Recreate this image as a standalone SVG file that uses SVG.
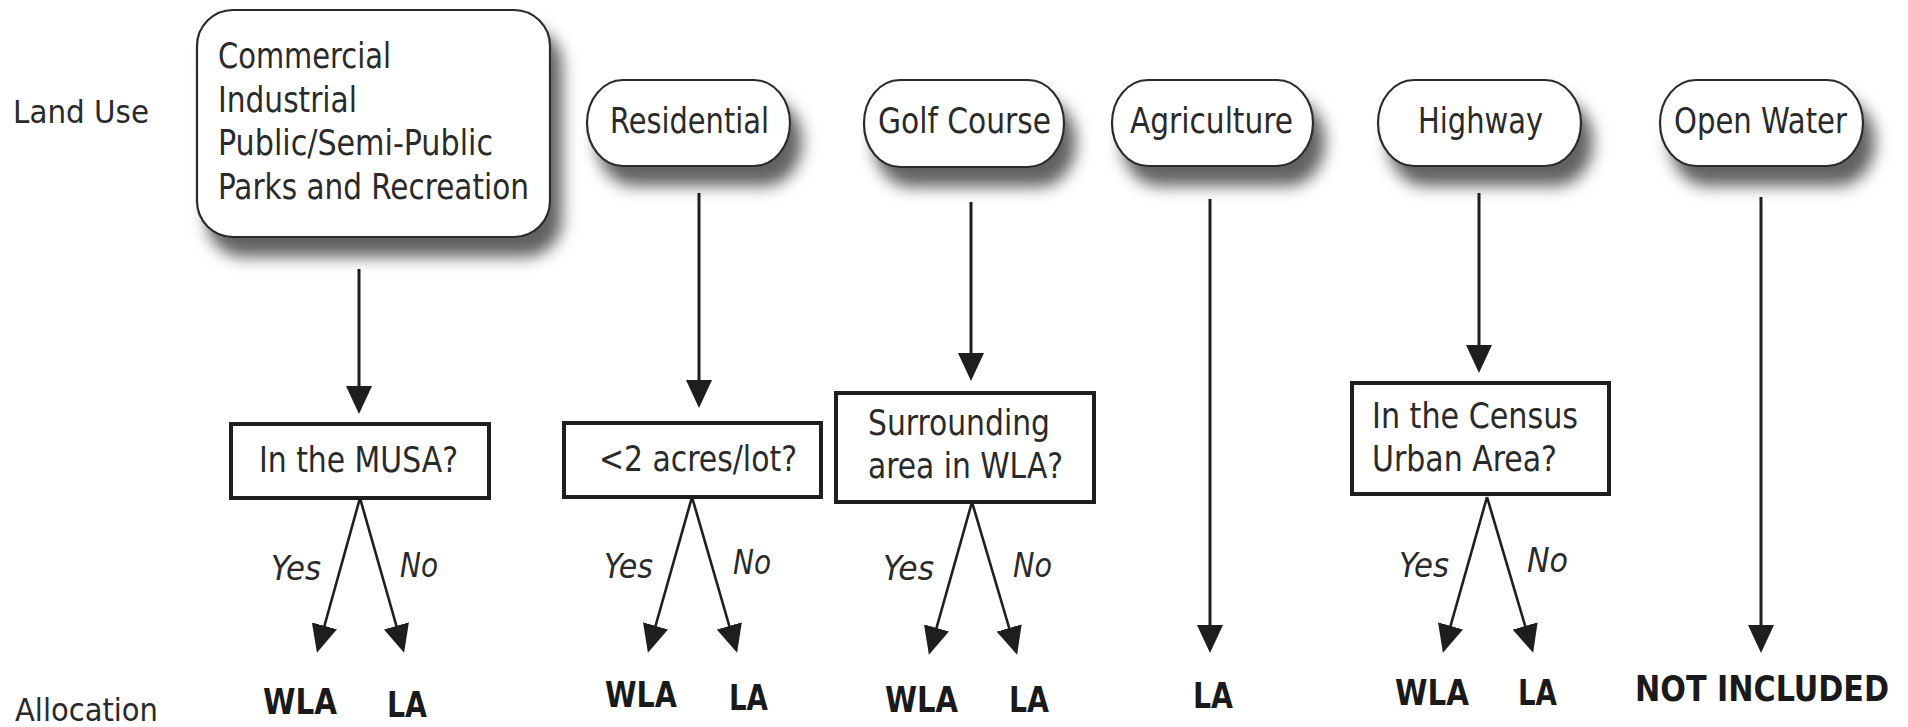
<svg xmlns="http://www.w3.org/2000/svg" width="1908" height="727" viewBox="0 0 1908 727">
<style>
  .t{font-family:"DejaVu Sans Condensed","DejaVu Sans",sans-serif;font-size:36px;fill:#2a2a2a}
  .lbl{font-family:"DejaVu Sans Condensed","DejaVu Sans",sans-serif;font-size:32px;fill:#2a2a2a}
  .yn{font-family:"DejaVu Sans Condensed","DejaVu Sans",sans-serif;font-size:33px;font-style:italic;fill:#2a2a2a}
  .res{font-family:"DejaVu Sans Condensed","DejaVu Sans",sans-serif;font-size:36px;font-weight:bold;fill:#1a1a1a}
  .rbox{fill:#fff;stroke:#2a2a2a;stroke-width:2.2;filter:url(#sh)}
  .dbox{fill:#fff;stroke:#1e1e1e;stroke-width:4}
  .v{stroke:#1e1e1e;stroke-width:3;fill:none;marker-end:url(#ah)}
  .b{stroke:#1e1e1e;stroke-width:2.6;fill:none;marker-end:url(#ah)}
</style>
<defs>
  <filter id="sh" x="-20%" y="-30%" width="150%" height="200%">
    <feDropShadow dx="11" dy="19" stdDeviation="8" flood-color="#000" flood-opacity="0.62"/>
  </filter>
  <marker id="ah" markerUnits="userSpaceOnUse" markerWidth="28" markerHeight="26" viewBox="0 0 28 26" refX="24" refY="13" orient="auto">
    <path d="M0,0 L28,13 L0,26 z" fill="#1e1e1e"/>
  </marker>
</defs>
<rect width="1908" height="727" fill="#fff"/>

<g id="labels">
  <text class="lbl" x="13" y="123" textLength="136" lengthAdjust="spacingAndGlyphs">Land Use</text>
  <text class="lbl" x="15" y="721" textLength="143" lengthAdjust="spacingAndGlyphs">Allocation</text>
</g>

<g id="n-commercial">
  <rect class="rbox" x="197" y="10" width="353" height="227" rx="36" ry="36"/>
  <text class="t" x="218" y="68" textLength="173" lengthAdjust="spacingAndGlyphs">Commercial</text>
  <text class="t" x="218" y="112" textLength="139" lengthAdjust="spacingAndGlyphs">Industrial</text>
  <text class="t" x="218" y="155" textLength="275" lengthAdjust="spacingAndGlyphs">Public/Semi-Public</text>
  <text class="t" x="218" y="199" textLength="311" lengthAdjust="spacingAndGlyphs">Parks and Recreation</text>
</g>
<g id="n-residential">
  <rect class="rbox" x="587" y="80" width="203" height="86" rx="36" ry="43"/>
  <text class="t" x="610" y="133" textLength="159" lengthAdjust="spacingAndGlyphs">Residential</text>
</g>
<g id="n-golf">
  <rect class="rbox" x="864" y="80" width="200" height="87" rx="36" ry="43"/>
  <text class="t" x="878" y="133" textLength="173" lengthAdjust="spacingAndGlyphs">Golf Course</text>
</g>
<g id="n-agriculture">
  <rect class="rbox" x="1112" y="80" width="201" height="86" rx="36" ry="43"/>
  <text class="t" x="1130" y="133" textLength="163" lengthAdjust="spacingAndGlyphs">Agriculture</text>
</g>
<g id="n-highway">
  <rect class="rbox" x="1378" y="80" width="203" height="86" rx="36" ry="43"/>
  <text class="t" x="1418" y="133" textLength="125" lengthAdjust="spacingAndGlyphs">Highway</text>
</g>
<g id="n-openwater">
  <rect class="rbox" x="1660" y="80" width="203" height="86" rx="36" ry="43"/>
  <text class="t" x="1674" y="133" textLength="173" lengthAdjust="spacingAndGlyphs">Open Water</text>
</g>

<g id="d-musa">
  <rect class="dbox" x="231" y="424" width="258" height="74"/>
  <text class="t" x="259" y="472" textLength="199" lengthAdjust="spacingAndGlyphs">In the MUSA?</text>
</g>
<g id="d-acres">
  <rect class="dbox" x="564" y="423" width="257" height="74"/>
  <text class="t" x="599" y="471" textLength="198" lengthAdjust="spacingAndGlyphs">&lt;2 acres/lot?</text>
</g>
<g id="d-surrounding">
  <rect class="dbox" x="836" y="393" width="258" height="109"/>
  <text class="t" x="868" y="435" textLength="182" lengthAdjust="spacingAndGlyphs">Surrounding</text>
  <text class="t" x="868" y="478" textLength="195" lengthAdjust="spacingAndGlyphs">area in WLA?</text>
</g>
<g id="d-census">
  <rect class="dbox" x="1352" y="383" width="257" height="111"/>
  <text class="t" x="1372" y="428" textLength="206" lengthAdjust="spacingAndGlyphs">In the Census</text>
  <text class="t" x="1372" y="471" textLength="185" lengthAdjust="spacingAndGlyphs">Urban Area?</text>
</g>

<g id="connectors">
  <line class="v" x1="359" y1="269" x2="359" y2="410"/>
  <line class="v" x1="699" y1="193" x2="699" y2="404"/>
  <line class="v" x1="971" y1="202" x2="971" y2="377"/>
  <line class="v" x1="1210" y1="199" x2="1210" y2="649"/>
  <line class="v" x1="1479" y1="193" x2="1479" y2="369"/>
  <line class="v" x1="1761" y1="197" x2="1761" y2="649"/>

  <line class="b" x1="360" y1="498" x2="318" y2="649"/>
  <line class="b" x1="360" y1="498" x2="403" y2="649"/>
  <line class="b" x1="692" y1="497" x2="649" y2="649"/>
  <line class="b" x1="692" y1="497" x2="736" y2="649"/>
  <line class="b" x1="972" y1="502" x2="930" y2="651"/>
  <line class="b" x1="972" y1="502" x2="1016" y2="651"/>
  <line class="b" x1="1487" y1="497" x2="1444" y2="649"/>
  <line class="b" x1="1487" y1="497" x2="1532" y2="649"/>
</g>

<g id="branch-labels">
  <text class="yn" x="271" y="580" textLength="50" lengthAdjust="spacingAndGlyphs">Yes</text>
  <text class="yn" x="400" y="577" textLength="38" lengthAdjust="spacingAndGlyphs">No</text>
  <text class="yn" x="604" y="578" textLength="49" lengthAdjust="spacingAndGlyphs">Yes</text>
  <text class="yn" x="733" y="574" textLength="38" lengthAdjust="spacingAndGlyphs">No</text>
  <text class="yn" x="883" y="580" textLength="51" lengthAdjust="spacingAndGlyphs">Yes</text>
  <text class="yn" x="1013" y="577" textLength="39" lengthAdjust="spacingAndGlyphs">No</text>
  <text class="yn" x="1399" y="577" textLength="50" lengthAdjust="spacingAndGlyphs">Yes</text>
  <text class="yn" x="1527" y="572" textLength="41" lengthAdjust="spacingAndGlyphs">No</text>
</g>

<g id="allocations">
  <text class="res" x="263" y="714" textLength="74" lengthAdjust="spacingAndGlyphs">WLA</text>
  <text class="res" x="387" y="717" textLength="40" lengthAdjust="spacingAndGlyphs">LA</text>
  <text class="res" x="605" y="707" textLength="72" lengthAdjust="spacingAndGlyphs">WLA</text>
  <text class="res" x="729" y="710" textLength="39" lengthAdjust="spacingAndGlyphs">LA</text>
  <text class="res" x="885" y="712" textLength="73" lengthAdjust="spacingAndGlyphs">WLA</text>
  <text class="res" x="1009" y="712" textLength="40" lengthAdjust="spacingAndGlyphs">LA</text>
  <text class="res" x="1193" y="708" textLength="40" lengthAdjust="spacingAndGlyphs">LA</text>
  <text class="res" x="1395" y="705" textLength="74" lengthAdjust="spacingAndGlyphs">WLA</text>
  <text class="res" x="1518" y="705" textLength="39" lengthAdjust="spacingAndGlyphs">LA</text>
  <text class="res" x="1635" y="701" textLength="254" lengthAdjust="spacingAndGlyphs">NOT INCLUDED</text>
</g>
</svg>
